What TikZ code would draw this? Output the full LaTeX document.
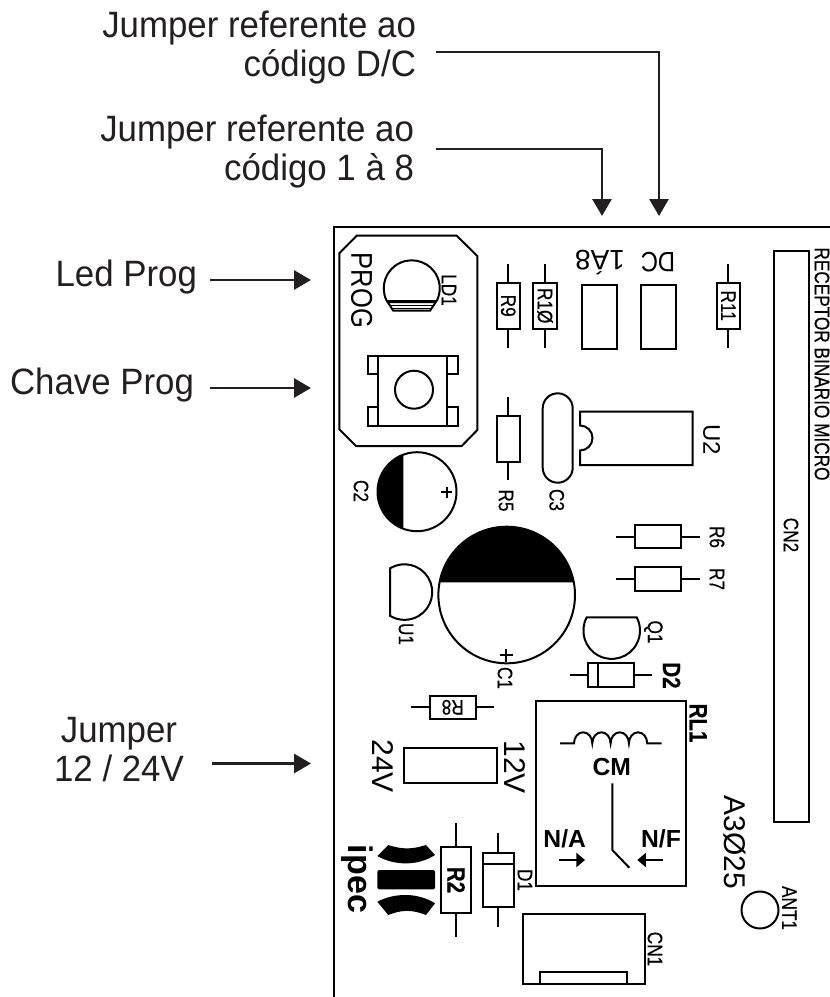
\documentclass[tikz,border=0pt]{standalone}
\usepackage{fontspec}
\setmainfont{Liberation Sans}
\newfontfamily\pcbfont[FakeStretch=0.82, FakeBold=0.4]{Liberation Sans}
\newfontfamily\widepcbfont[FakeStretch=0.85]{Liberation Sans}
\newfontfamily\calloutfont[FakeStretch=0.95]{Liberation Sans}
\usetikzlibrary{arrows.meta, positioning}
\definecolor{inkblack}{HTML}{231F20}

\tikzset{
    callouttext/.style={inner ysep=0pt, inner xsep=9pt, text=inkblack, font=\calloutfont\fontsize{27.5}{29.25}\selectfont},
    callout/.style={->, >={Triangle[length=12.75pt, width=14.25pt]}, color=inkblack, line width=2.2pt},
    contact/.style={->, >={Triangle[length=6.4pt, width=10.5pt]}, line width=1.3pt},
    smalllabel/.style={inner sep=0pt, font=\pcbfont\fontsize{15.75}{15.75}\selectfont},
    boldlabel/.style={inner sep=0pt, font=\pcbfont\bfseries\fontsize{18.75}{18.75}\selectfont},
    largelabel/.style={inner sep=0pt, font=\fontsize{22.5}{22.5}\selectfont},
    relaylabel/.style={inner sep=0pt, font=\bfseries\fontsize{18.5}{18.5}\selectfont},
    resbody/.style={draw, inner sep=0pt, minimum width=34.5pt, minimum height=17.5pt, font=\pcbfont\fontsize{15.75}{15.75}\selectfont},
    jumperbox/.style={draw, minimum width=26.5pt, minimum height=47.75pt}
}

\begin{document}
\begin{tikzpicture}[x=0.75pt, y=-0.75pt, line width=1.5pt]
    \useasboundingbox (0,0) rectangle (830,997);

    % Callouts
    \node[callouttext, anchor=east, align=right, inner xsep=14.25pt] (jumperdc) at (436,48) {Jumper referente ao\\código D/C};
    \node[callouttext, anchor=east, align=right, inner xsep=15.75pt] (jumpercode) at (436,152) {Jumper referente ao\\código 1 à 8};
    \node[callouttext, anchor=base east] (ledprog) at (210,286.7) {Led Prog};
    \node[callouttext, anchor=base east, inner xsep=11.25pt] (chaveprog) at (210,394) {Chave Prog};
    \node[callouttext, align=center, inner xsep=20pt] (jumpervolt) at (119,750) {Jumper\\12 / 24V};
    \coordinate (dcelbow) at (659,52);
    \coordinate (codeelbow) at (602,149);
    \coordinate (dctip) at (659,216);
    \coordinate (codetip) at (602,216);
    \coordinate (ledtip) at (311,280);
    \coordinate (chavetip) at (311,388);
    \coordinate (volttip) at (311,763.5);
    \draw[callout] (jumperdc.east |- dcelbow) -- (dcelbow) -- (dctip);
    \draw[callout] (jumpercode.east |- codeelbow) -- (codeelbow) -- (codetip);
    \path[callout]
    (ledprog.east |- ledtip) edge (ledtip)
    (chaveprog.east |- chavetip) edge (chavetip)
    (jumpervolt.east |- volttip) edge (volttip);

    % Board edge
    \draw (334,997) -- (334,227) -- (830,227);

    % Prog block
    \draw (356.7,235.7) -- (456.7,235.7) -- (477.3,256) -- (477.3,430) -- (461.7,446) -- (356,446) -- (339.3,429.3) -- (339.3,253.3) -- cycle;
    \node[rotate=-90, inner sep=0pt, font=\widepcbfont\fontsize{22.5}{22.5}\selectfont] (prog) at (361.7,290.5) {PROG};
    \node[smalllabel, rotate=-90] (ld1) at (449,290) {LD1};
    \draw (386.3,300) arc[start angle=155.3, end angle=384.7, radius=28] -- (430,310.7) -- (393.3,310.7) -- cycle;
    \fill (386.3,300) -- (437.1,300) -- (435.5,303) -- (388.2,303) -- cycle;
    \draw[line width=1pt] (389.6,305.4) -- (433.8,305.4) (391.7,308.3) -- (431.6,308.3);
    \draw (378.3,356) rectangle (447.3,426);
    \draw (378.3,356) -- (367.7,356) -- (367.7,374) -- (378.3,374);
    \draw (378.3,407.3) -- (367.7,407.3) -- (367.7,426) -- (378.3,426);
    \draw (447.3,356) -- (458.3,356) -- (458.3,374) -- (447.3,374);
    \draw (447.3,407.3) -- (458.3,407.3) -- (458.3,426) -- (447.3,426);
    \draw (414,389.7) circle[radius=19];

    % Resistors
    \foreach \rname/\rtext/\rx in {r9/R9/508.3, r10/R1Ø/545, r11/R11/728.3}{
        \node[resbody, rotate=-90] (\rname) at (\rx,305.7) {\rtext};
        \path[draw] (\rname.west) -- ++(0,-17.4) (\rname.east) -- ++(0,18);
    }
    \node[resbody, rotate=-90] (r5) at (508.3,438.7) {};
    \path[draw] (r5.west) -- ++(0,-18) (r5.east) -- ++(0,17.6);
    \node[smalllabel, rotate=-90] (r5text) at (506,500.5) {R5};
    \node[resbody] (r6) at (658,536.7) {};
    \node[resbody] (r7) [below of=r6, node distance=31.7pt] {};
    \foreach \rname in {r6, r7}{
        \path[draw] (\rname.west) -- ++(-18.3,0) (\rname.east) -- ++(18,0);
    }
    \node[smalllabel, rotate=-90] (r6text) at (717,537) {R6};
    \node[smalllabel, rotate=-90] (r7text) at (717,579) {R7};
    \node[resbody, rotate=180] (r8) at (452.7,707.3) {R8};
    \path[draw] (r8.east) -- ++(-17.3,0) (r8.west) -- ++(17.3,0);
    \node[draw, rotate=-90, inner sep=0pt, minimum width=50pt, minimum height=22.7pt, font=\pcbfont\bfseries\fontsize{18.75}{18.75}\selectfont] (r2) at (456.2,880) {R2};
    \path[draw] (r2.west) -- ++(0,-22.4) (r2.east) -- ++(0,22.4);

    % Jumpers
    \node[jumperbox] (jp18) at (599.7,316.9) {};
    \node[jumperbox] (jpdc) [right of=jp18, node distance=44pt] {};
    \node[rotate=180, inner sep=0pt, font=\fontsize{21}{21}\selectfont] (text18) at (600,262.5) {1Á8};
    \node[rotate=180, inner sep=0pt, font=\widepcbfont\fontsize{21}{21}\selectfont] (textdc) at (658,261.7) {DC};
    \node[draw, minimum width=69.5pt, minimum height=26.25pt] (jpvolt) at (450.3,765.8) {};
    \node[largelabel, rotate=-90] (text24) at (383.3,766) {24V};
    \node[largelabel, rotate=-90] (text12) at (515,767) {12V};

    % U2 and C3
    \draw (580,411.7) -- (692.7,411.7) -- (692.7,465) -- (580,465) -- (580,450.5) arc[start angle=90, end angle=-90, radius=12.5] -- cycle;
    \node[rotate=-90, inner sep=0pt, font=\fontsize{18}{18}\selectfont] (u2) at (711.7,440) {U2};
    \draw (542.7,408.3) arc[start angle=180, end angle=360, radius=15] -- (572.7,467.7) arc[start angle=0, end angle=180, radius=15] -- cycle;
    \node[smalllabel, rotate=-90] (c3) at (556.7,500) {C3};

    % C2 and C1
    \fill (403.3,528.7) arc[start angle=110.3, end angle=249.7, radius=39.5] -- cycle;
    \draw (417,491.7) circle[radius=39.5];
    \draw (441.2,492.3) -- (452.2,492.3) (446.7,486.8) -- (446.7,497.8);
    \node[smalllabel, rotate=-90] (c2) at (361,491) {C2};
    \fill (439.6,582.3) arc[start angle=190.7, end angle=349.3, radius=68.3] -- cycle;
    \draw (506.7,595) circle[radius=68.3];
    \draw (499.5,655) -- (512.5,655) (506,648.5) -- (506,661.5);
    \node[smalllabel, rotate=-90] (c1) at (505,678) {C1};

    % U1, Q1 and D2
    \draw (390,568.3) arc[start angle=-121.3, end angle=121.3, radius=27.8] -- cycle;
    \node[smalllabel, rotate=-90] (u1) at (406,634) {U1};
    \draw (586.7,617.3) arc[start angle=208, end angle=-28, radius=28.3] -- cycle;
    \node[smalllabel, rotate=-90] (q1) at (653.3,632) {Q1};
    \draw (587.7,663.3) rectangle (634,687.3);
    \draw (597.7,663.3) -- (597.7,687.3);
    \draw (570,675.3) -- (587.7,675.3) (634,675.3) -- (651.7,675.3);
    \node[boldlabel, rotate=-90] (d2) at (671.7,675.5) {D2};

    % Relay
    \draw (535.7,701.3) rectangle (686,886);
    \node[boldlabel, rotate=-90] (rl1) at (698.3,723) {RL1};
    \draw (560,743.3) -- (574,743.3)
    \foreach \turn in {1,...,4}{arc[start angle=180, end angle=360, x radius=9.15, y radius=11]}
    -- (661.7,743.3);
    \node[relaylabel] (cm) at (611.7,766.7) {CM};
    \coordinate (pole) at (612.3,850);
    \coordinate (blade) at (629.3,867.7);
    \draw (cm.south -| pole) ++(0,7) -- (pole) -- (blade);
    \node[relaylabel] (na) at (564.7,839) {N/A};
    \node[relaylabel] (nf) at (661,839) {N/F};
    \coordinate (natail) at (559.3,860);
    \coordinate (natip) at (585,860);
    \coordinate (nftail) at (662.7,860);
    \coordinate (nftip) at (637.3,860);
    \path[contact]
    (natail) edge (natip)
    (nftail) edge (nftip);

    % D1, logo and connectors
    \draw (483.3,852.7) rectangle (513.7,907.3);
    \draw (483.3,864) -- (513.7,864);
    \draw (498.3,832.7) -- (498.3,852.7) (498.3,907.3) -- (498.3,927.3);
    \node[smalllabel, rotate=-90] (d1) at (525,880) {D1};
    \fill (377.3,856) -- (388.3,845) .. controls (402,849.5) and (412,849.5) .. (426,845) -- (435,855) .. controls (418,866) and (395,866) .. (377.3,856) -- cycle;
    \fill[rounded corners=1.5pt] (377.3,870) rectangle (435,889.3);
    \fill (377.3,901.7) -- (388.3,915) .. controls (402,909.5) and (412,909.5) .. (426,915) -- (435,903.3) .. controls (418,892.5) and (395,892.5) .. (377.3,901.7) -- cycle;
    \node[rotate=-90, inner sep=0pt, font=\bfseries\fontsize{25.5}{25.5}\selectfont] (ipec) at (357,879) {ipec};
    \draw (523,914) rectangle (644.7,984);
    \draw (540,984) -- (540,972.3) -- (627.3,972.3) -- (627.3,984);
    \node[smalllabel, rotate=-90] (cn1) at (655,949) {CN1};
    \draw (774,250.7) rectangle (809,822.3);
    \node[smalllabel, rotate=-90] (cn2) at (791,535) {CN2};
    \node[smalllabel, rotate=-90] (boardname) at (822,364) {RECEPTOR BINARIO MICRO};
    \node[largelabel, rotate=-90] (a3025) at (735,842) {A3Ø25};
    \draw (760,910) circle[radius=18.5];
    \node[smalllabel, rotate=-90] (ant1) at (789.3,908) {ANT1};
\end{tikzpicture}
\end{document}
